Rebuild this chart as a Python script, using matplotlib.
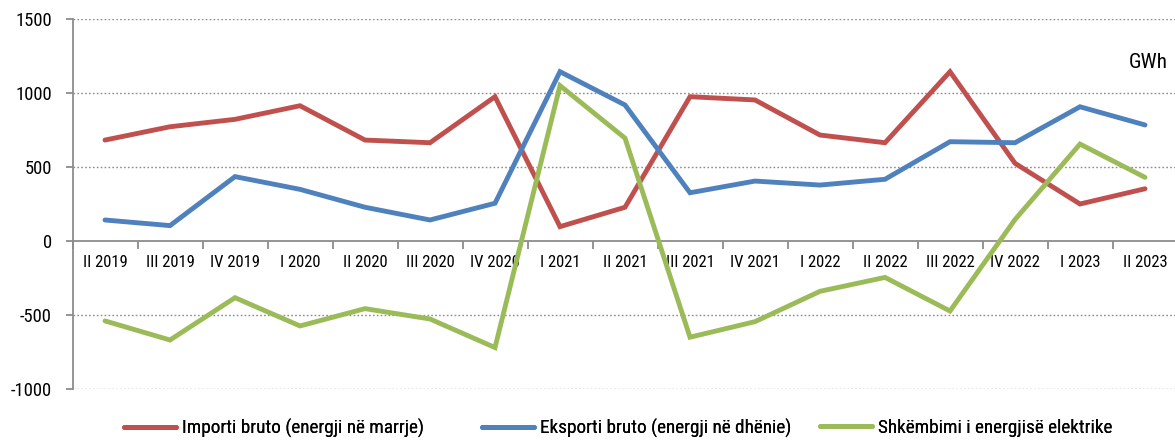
import matplotlib
matplotlib.use("Agg")
import matplotlib.pyplot as plt
from matplotlib.lines import Line2D
import numpy as np

categories = ["II 2019", "III 2019", "IV 2019", "I 2020", "II 2020", "III 2020", "IV 2020",
              "I 2021", "II 2021", "III 2021", "IV 2021", "I 2022", "II 2022", "III 2022",
              "IV 2022", "I 2023", "II 2023"]
importi = [682, 772, 822, 914, 682, 664, 975, 97, 228, 975, 953, 716, 664, 1144, 525, 250, 353]
eksporti = [142, 104, 435, 349, 228, 142, 255, 1144, 919, 326, 405, 378, 417, 671, 664, 907, 784]
shkembimi = [-540, -669, -383, -574, -457, -527, -720, 1050, 695, -650, -545, -340, -246, -473, 145, 655, 430]
series_names = ["Importi bruto (energji në marrje)", "Eksporti bruto (energji në dhënie)",
                "Shkëmbimi i energjisë elektrike"]
yticks = [-1000, -500, 0, 500, 1000, 1500]
ytick_labels = ["-1000", "-500", "0", "500", "1000", "1500"]
unit_label = "GWh"

plt.rcParams['font.family'] = ["Roboto Condensed", "DejaVu Sans"]

W, H = 1175, 441
fig = plt.figure(figsize=(W / 100, H / 100), dpi=100)
renderer = fig.canvas.get_renderer()


def size_for(s, target_px, base=14.0):
    t = fig.text(0, 0, s, fontsize=base)
    w = t.get_window_extent(renderer).width
    t.remove()
    return base * target_px / w


fs_y = size_for("1500", 37)
fs_x = size_for("II 2019", 45)
fs_leg = size_for(series_names[0], 244)
fs_unit = size_for(unit_label, 39)

left, right, top, bottom = 72.5, 1177.5, 19, 389
ax = fig.add_axes([left / W, (H - bottom) / H, (right - left) / W, (bottom - top) / H])

colors = ["#C0504D", "#4F81BD", "#9BBB59"]
x = np.arange(len(categories))
for vals, c, name in zip([importi, eksporti, shkembimi], colors, series_names):
    ax.plot(x, vals, color=c, lw=3.5, solid_capstyle='round', solid_joinstyle='miter', label=name, zorder=3)

ax.set_xlim(-0.5, len(categories) - 0.5)
ax.set_ylim(-1000, 1500)

for yv in yticks:
    if yv != 0:
        ax.axhline(yv, color="#8c8c8c", lw=1.0, ls=(0, (1.2, 1.6)), zorder=1)

for s in ["top", "right"]:
    ax.spines[s].set_visible(False)
ax.spines["left"].set_color("#8c8c8c")
ax.spines["left"].set_linewidth(1.3)
ax.spines["bottom"].set_position(("data", 0))
ax.spines["bottom"].set_color("#8c8c8c")
ax.spines["bottom"].set_linewidth(1.3)
ax.spines["bottom"].set_zorder(2)

ax.set_yticks(yticks)
ax.set_yticklabels(ytick_labels, fontsize=fs_y)
ax.tick_params(axis="y", direction="out", length=5, width=1.3, color="#8c8c8c", pad=10)

ax.set_xticks(np.arange(len(categories) + 1) - 0.5)
ax.set_xticklabels([])
ax.tick_params(axis="x", which="major", direction="out", length=6, width=1.3, color="#8c8c8c")
ax.set_xticks(x, minor=True)
ax.set_xticklabels(categories, minor=True, fontsize=fs_x)
ax.tick_params(axis="x", which="minor", length=0, pad=10)

fig.text(1168 / W, 1 - 63 / H, unit_label, ha="right", va="center", fontsize=fs_unit)

legend_x = [124, 482, 820]
for c, name, lx in zip(colors, series_names, legend_x):
    h = Line2D([0], [0], color=c, lw=3.5, solid_capstyle='round')
    hl = 52 / (fs_leg * 100 / 72)
    tp = 6 / (fs_leg * 100 / 72)
    lg = fig.legend([h], [name], loc="center left", bbox_to_anchor=(lx / W, 1 - 428 / H),
                    frameon=False, fontsize=fs_leg, handlelength=hl, handletextpad=tp,
                    borderpad=0, borderaxespad=0)
    fig.add_artist(lg)

fig.savefig("out.png", dpi=100)
